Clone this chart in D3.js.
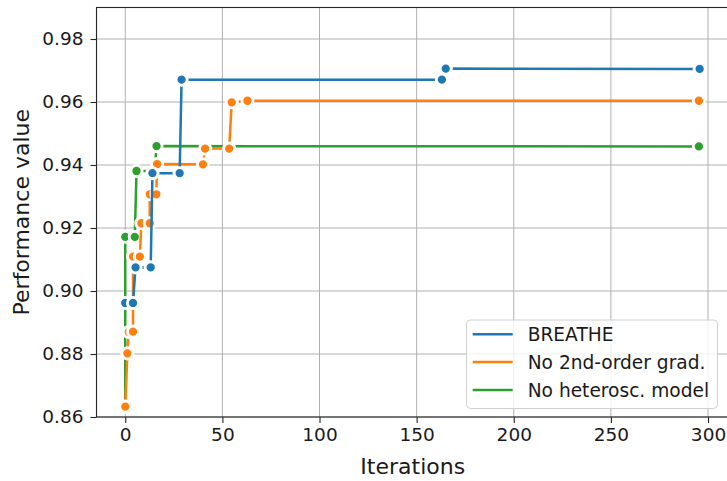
<!DOCTYPE html>
<html>
<head>
<meta charset="utf-8">
<script src="https://cdn.jsdelivr.net/npm/d3@7"></script>
<style>
  html, body { margin: 0; padding: 0; background: #fff; }
  svg { display: block; font-family: "DejaVu Sans", sans-serif; }
</style>
</head>
<body>
<svg id="chart" width="727" height="481"></svg>
<script>
// ---- data ----
const seriesNames = ["BREATHE", "No 2nd-order grad.", "No heterosc. model"];
const seriesColors = ["#1f77b4", "#ff7f0e", "#2ca02c"];

const breatheX = [0, 4, 5.3, 13.1, 14, 28, 29, 163, 165, 295.7];
const breatheY = [0.8962, 0.8962, 0.9075, 0.9075, 0.9374, 0.9374, 0.9671, 0.9671, 0.9706, 0.9705];

const no2ndX = [0, 1.1, 1.8, 4, 4, 7.5, 8.3, 12.6, 12.6, 16, 16.4, 40, 41.1, 53.5, 54.8, 62.9, 295.3];
const no2ndY = [0.8633, 0.8802, 0.8870, 0.8871, 0.9109, 0.9109, 0.9215, 0.9215, 0.9307, 0.9307, 0.9403, 0.9402, 0.9452, 0.9452, 0.9599, 0.9604, 0.9604];

const noHetX = [0, 0, 4.9, 5.8, 15.2, 16.1, 295.3];
const noHetY = [0.8633, 0.9172, 0.9172, 0.9381, 0.9381, 0.9460, 0.9459];

const xTicks = [0, 50, 100, 150, 200, 250, 300];
const yTicks = [0.86, 0.88, 0.90, 0.92, 0.94, 0.96, 0.98];
const xLabel = "Iterations";
const yLabel = "Performance value";

const series = [
  { name: seriesNames[0], color: seriesColors[0], xs: breatheX, ys: breatheY },
  { name: seriesNames[1], color: seriesColors[1], xs: no2ndX, ys: no2ndY },
  { name: seriesNames[2], color: seriesColors[2], xs: noHetX, ys: noHetY }
];

// ---- layout ----
const svg = d3.select("#chart");
const L = 96.5, T = 7.5, R = 729, B = 417;

const x = d3.scaleLinear().domain([-14.8, 310.8]).range([L, R]);
const y = d3.scaleLinear().domain([0.86, 0.99]).range([B, T]);

// grid
const grid = svg.append("g");
grid.selectAll("line.gx").data(xTicks).join("line")
  .attr("x1", d => x(d)).attr("x2", d => x(d))
  .attr("y1", T).attr("y2", B)
  .attr("stroke", "#b0b0b0").attr("stroke-width", 1);
grid.selectAll("line.gy").data(yTicks).join("line")
  .attr("x1", L).attr("x2", R)
  .attr("y1", d => y(d)).attr("y2", d => y(d))
  .attr("stroke", "#b0b0b0").attr("stroke-width", 1);

// axes
const fontTick = 18.5;
const xAxis = d3.axisBottom(x).tickValues(xTicks).tickFormat(d3.format("d")).tickSize(6).tickPadding(5);
const yAxis = d3.axisLeft(y).tickValues(yTicks).tickFormat(d3.format(".2f")).tickSize(6).tickPadding(7);

const gx = svg.append("g").attr("transform", `translate(0,${B})`).call(xAxis);
const gy = svg.append("g").attr("transform", `translate(${L},0)`).call(yAxis);
[gx, gy].forEach(g => {
  g.select(".domain").remove();
  g.selectAll(".tick line").attr("stroke", "#262626").attr("stroke-width", 1.1);
  g.selectAll(".tick text").attr("fill", "#1a1a1a").style("font-size", fontTick + "px")
    .style("font-family", "'DejaVu Sans', sans-serif");
});

// data lines: drawn green, orange, blue (blue on top)
const lineGen = d3.line().x(d => x(d[0])).y(d => y(d[1]));
const drawOrder = [2, 1, 0];
drawOrder.forEach(i => {
  const s = series[i];
  const pts = s.xs.map((v, k) => [v, s.ys[k]]);
  const g = svg.append("g");
  g.append("path").datum(pts)
    .attr("d", lineGen)
    .attr("fill", "none")
    .attr("stroke", s.color)
    .attr("stroke-width", 2.5)
    .attr("stroke-linejoin", "round");
  g.selectAll("circle").data(pts).join("circle")
    .attr("cx", d => x(d[0])).attr("cy", d => y(d[1]))
    .attr("r", 5.6)
    .attr("fill", s.color)
    .attr("stroke", "#fff")
    .attr("stroke-width", 2.9);
});

// frame (spines)
svg.append("rect")
  .attr("x", L).attr("y", T).attr("width", R - L).attr("height", B - T)
  .attr("fill", "none").attr("stroke", "#262626").attr("stroke-width", 1.1);

// axis labels
svg.append("text")
  .attr("x", (L + R) / 2).attr("y", 474)
  .attr("text-anchor", "middle")
  .style("font-size", "22px").attr("fill", "#1a1a1a")
  .text(xLabel);
svg.append("text")
  .attr("transform", `translate(29,${(T + B) / 2}) rotate(-90)`)
  .attr("text-anchor", "middle")
  .style("font-size", "22px").attr("fill", "#1a1a1a")
  .text(yLabel);

// legend
const lg = svg.append("g");
lg.append("rect")
  .attr("x", 466.5).attr("y", 320).attr("width", 251).attr("height", 88.5)
  .attr("rx", 4).attr("ry", 4)
  .attr("fill", "#fff").attr("fill-opacity", 0.8)
  .attr("stroke", "#d0d0d0").attr("stroke-width", 1);
const legY = [334.3, 362, 390];
series.forEach((s, i) => {
  lg.append("line")
    .attr("x1", 472.7).attr("x2", 512.7)
    .attr("y1", legY[i]).attr("y2", legY[i])
    .attr("stroke", s.color).attr("stroke-width", 2.5);
  lg.append("text")
    .attr("x", 527.7).attr("y", legY[i] + 6.7)
    .style("font-size", "18.6px").attr("fill", "#1a1a1a")
    .text(s.name);
});
</script>
</body>
</html>
